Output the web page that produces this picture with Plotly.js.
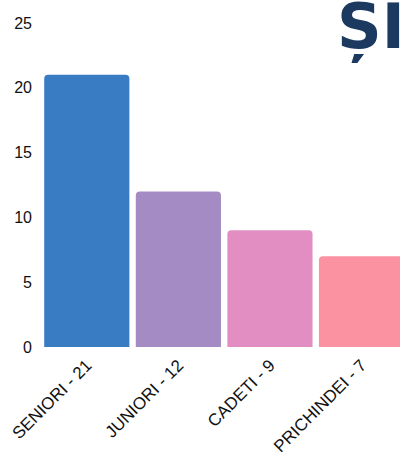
<!DOCTYPE html>
<html>
<head>
<meta charset="utf-8">
<script src="https://cdn.plot.ly/plotly-3.0.1.min.js"></script>
<style>html,body{margin:0;padding:0;background:#fff;}#chart{width:400px;height:457px;}</style>
</head>
<body>
<div id="chart"></div>
<script>
const categories = ["SENIORI - 21", "JUNIORI - 12", "CADETI - 9", "PRICHINDEI - 7"];
const values = [21, 12, 9, 7];
const barColors = ["#3a7cc4", "#a48bc4", "#e28ec3", "#fb92a2"];
const yTicks = [0, 5, 10, 15, 20, 25];

const trace = {
  type: "bar",
  x: categories,
  y: values,
  marker: { color: barColors, cornerradius: 4 },
  hoverinfo: "none"
};

const layout = {
  width: 400,
  height: 457,
  margin: { l: 41, r: 0, t: 23, b: 110 },
  paper_bgcolor: "#ffffff",
  plot_bgcolor: "#ffffff",
  bargap: 0.07,
  showlegend: false,
  font: { family: "Liberation Sans, Arial, sans-serif", color: "#111" },
  xaxis: {
    type: "category",
    range: [-0.5, 3.42],
    tickangle: -45,
    tickfont: { size: 17, color: "#111" },
    showgrid: false,
    zeroline: false,
    showline: false,
    ticks: "",
    ticklabelstandoff: 4
  },
  yaxis: {
    range: [0, 25],
    tickvals: yTicks,
    ticktext: yTicks.map(String),
    tickfont: { size: 16, color: "#111" },
    showgrid: false,
    zeroline: false,
    showline: false,
    ticks: "",
    ticklabelstandoff: 8
  },
  annotations: [{
    text: "<b>ȘI</b>",
    xref: "paper", yref: "paper",
    x: 0.82, y: 1.108,
    xanchor: "left", yanchor: "top",
    showarrow: false,
    font: { family: "DejaVu Sans, sans-serif", size: 62, color: "#1c3a60" }
  }]
};

Plotly.newPlot("chart", [trace], layout, { staticPlot: true, displayModeBar: false });
</script>
</body>
</html>
